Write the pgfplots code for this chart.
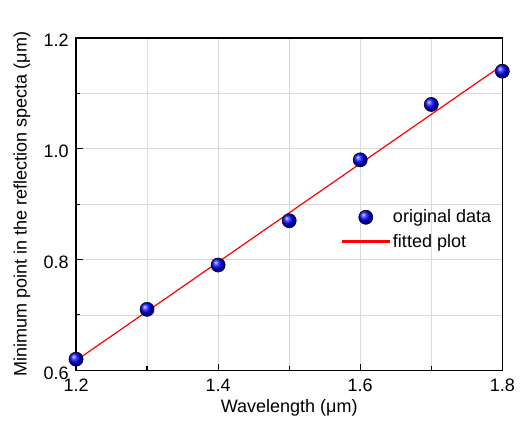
\documentclass[border=0pt]{standalone}
\usepackage{fontspec}
\setmainfont{Liberation Sans}
\usepackage{pgfplots}
\pgfplotsset{compat=1.18}

\begin{document}
\begin{tikzpicture}
\begin{axis}[
    name=ax,
    width=319.5pt, height=249pt,
    scale only axis,
    xmin=1.2, xmax=1.8, ymin=0.6, ymax=1.2,
    xtick={1.2,1.4,1.6,1.8}, minor xtick={1.3,1.5,1.7},
    ytick={0.6,0.8,1.0,1.2}, minor ytick={0.7,0.9,1.1},
    xticklabels={1.2,1.4,1.6,1.8},
    yticklabels={0.6,0.8,1.0,1.2},
    tick pos=left, tick align=inside,
    major tick length=5pt, minor tick length=3pt,
    every tick/.style={black, line width=0.9pt},
    axis line style={line width=1.1pt},
    grid=both,
    major grid style={gray!30, line width=0.5pt},
    minor grid style={gray!30, line width=0.5pt},
    tick label style={font=\fontsize{13.5}{15}\selectfont},
    label style={font=\fontsize{13.5}{15}\selectfont},
    xticklabel style={yshift=-3pt},
    yticklabel style={xshift=-2pt, yshift=-2pt},
    xlabel={Wavelength (μm)},
    ylabel={Minimum point in the reflection specta (μm)},
    xlabel style={yshift=1pt},
    ylabel style={yshift=3pt},
    legend style={at={(0.99,0.50)}, anchor=north east, fill=none, draw=none,
        font=\fontsize{13.5}{15}\selectfont, row sep=3pt},
    legend cell align=left,
    clip=false,
]
\addplot[only marks, mark=ball, mark size=5.3pt, mark options={ball color=blue},
    legend image code/.code={%
        \path (0cm,0cm) (1.25cm,0cm);
        \shade[ball color=blue] (0.62cm,0cm) circle (5.3pt);}]
    coordinates {(1.2,0.62) (1.3,0.71) (1.4,0.79) (1.5,0.87) (1.6,0.98) (1.7,1.08) (1.8,1.14)};
\addlegendentry{original data}
\addplot[red, line width=0.9pt, legend image code/.code={%
        \fill[fill=red] (0cm,-0.45pt) rectangle (1.25cm,0.45pt);}]
    coordinates {(1.2,0.6175) (1.8,1.151)};
\addlegendentry{fitted plot}
\end{axis}
\path (ax.south west) ++(-57pt,-45pt) coordinate (bl);
\path (ax.north east) ++(17pt,28.5pt) coordinate (tr);
\path (bl) rectangle (tr);
\end{tikzpicture}
\end{document}
